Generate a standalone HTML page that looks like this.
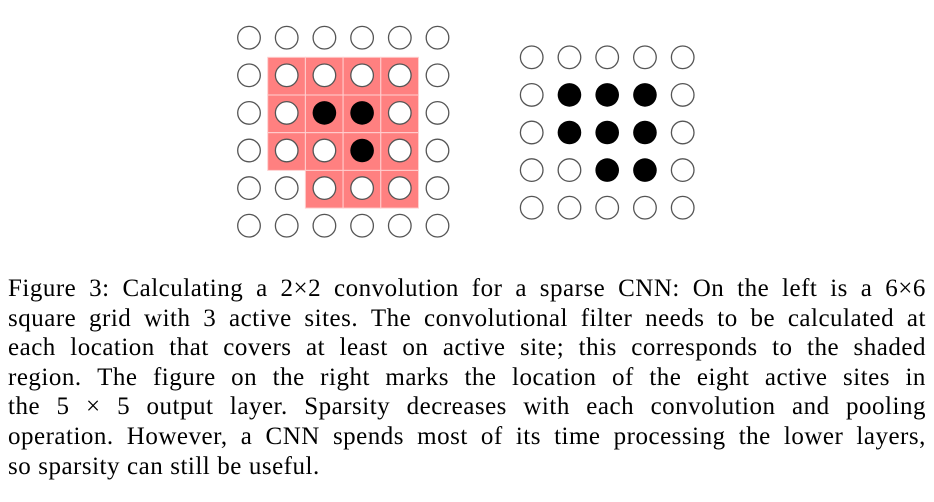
<!DOCTYPE html>
<html><head><meta charset="utf-8"><style>
body{margin:0;width:934px;height:502px;background:#fff;overflow:hidden;position:relative}
svg{position:absolute;left:0;top:0}
#cap{position:absolute;left:8px;top:274px;width:918px;font-family:"Liberation Serif",serif;font-size:25px;letter-spacing:0.5px;color:#000}
#cap div{height:29.6px;line-height:29.6px;white-space:nowrap;display:flex;justify-content:space-between}
#cap div.last{justify-content:flex-start;gap:7px}
</style></head><body>
<svg width="934" height="270" xmlns="http://www.w3.org/2000/svg">
<g fill="#ff8080" stroke="#ffd0d0" stroke-width="1">
<rect x="267.7" y="57.3" width="37.7" height="37.7"/><rect x="305.4" y="57.3" width="37.7" height="37.7"/><rect x="343.1" y="57.3" width="37.7" height="37.7"/><rect x="380.8" y="57.3" width="37.7" height="37.7"/>
<rect x="267.7" y="95" width="37.7" height="37.7"/><rect x="305.4" y="95" width="37.7" height="37.7"/><rect x="343.1" y="95" width="37.7" height="37.7"/><rect x="380.8" y="95" width="37.7" height="37.7"/>
<rect x="267.7" y="132.7" width="37.7" height="37.7"/><rect x="305.4" y="132.7" width="37.7" height="37.7"/><rect x="343.1" y="132.7" width="37.7" height="37.7"/><rect x="380.8" y="132.7" width="37.7" height="37.7"/>
<rect x="305.4" y="170.4" width="37.7" height="37.7"/><rect x="343.1" y="170.4" width="37.7" height="37.7"/><rect x="380.8" y="170.4" width="37.7" height="37.7"/>
</g>
<g id="L" stroke="#555" stroke-width="1.3"></g>
<g id="R" stroke="#555" stroke-width="1.3"></g>
</svg>
<script>
(function(){
var ns="http://www.w3.org/2000/svg";
function c(g,x,y,f){var e=document.createElementNS(ns,"circle");e.setAttribute("cx",x);e.setAttribute("cy",y);e.setAttribute("r",f?11.8:11.3);e.setAttribute("fill",f?"#000":"#fff");if(f)e.setAttribute("stroke","none");g.appendChild(e);}
var L=document.getElementById("L"),R=document.getElementById("R");
var lf={"2,2":1,"2,3":1,"3,3":1};
for(var r=0;r<6;r++)for(var k=0;k<6;k++)c(L,249+k*37.7,37.7+r*37.6,lf[r+","+k]);
var rf={"1,1":1,"1,2":1,"1,3":1,"2,1":1,"2,2":1,"2,3":1,"3,2":1,"3,3":1};
for(var r=0;r<5;r++)for(var k=0;k<5;k++)c(R,531.7+k*37.75,57.3+r*37.6,rf[r+","+k]);
})();
</script>
<div id="cap">
<div><span>Figure</span><span>3:</span><span>Calculating</span><span>a</span><span>2×2</span><span>convolution</span><span>for</span><span>a</span><span>sparse</span><span>CNN:</span><span>On</span><span>the</span><span>left</span><span>is</span><span>a</span><span>6×6</span></div>
<div><span>square</span><span>grid</span><span>with</span><span>3</span><span>active</span><span>sites.</span><span>The</span><span>convolutional</span><span>filter</span><span>needs</span><span>to</span><span>be</span><span>calculated</span><span>at</span></div>
<div><span>each</span><span>location</span><span>that</span><span>covers</span><span>at</span><span>least</span><span>on</span><span>active</span><span>site;</span><span>this</span><span>corresponds</span><span>to</span><span>the</span><span>shaded</span></div>
<div><span>region.</span><span>The</span><span>figure</span><span>on</span><span>the</span><span>right</span><span>marks</span><span>the</span><span>location</span><span>of</span><span>the</span><span>eight</span><span>active</span><span>sites</span><span>in</span></div>
<div><span>the</span><span>5</span><span>×</span><span>5</span><span>output</span><span>layer.</span><span>Sparsity</span><span>decreases</span><span>with</span><span>each</span><span>convolution</span><span>and</span><span>pooling</span></div>
<div><span>operation.</span><span>However,</span><span>a</span><span>CNN</span><span>spends</span><span>most</span><span>of</span><span>its</span><span>time</span><span>processing</span><span>the</span><span>lower</span><span>layers,</span></div>
<div class="last"><span>so</span><span>sparsity</span><span>can</span><span>still</span><span>be</span><span>useful.</span></div>
</div>
</body></html>
